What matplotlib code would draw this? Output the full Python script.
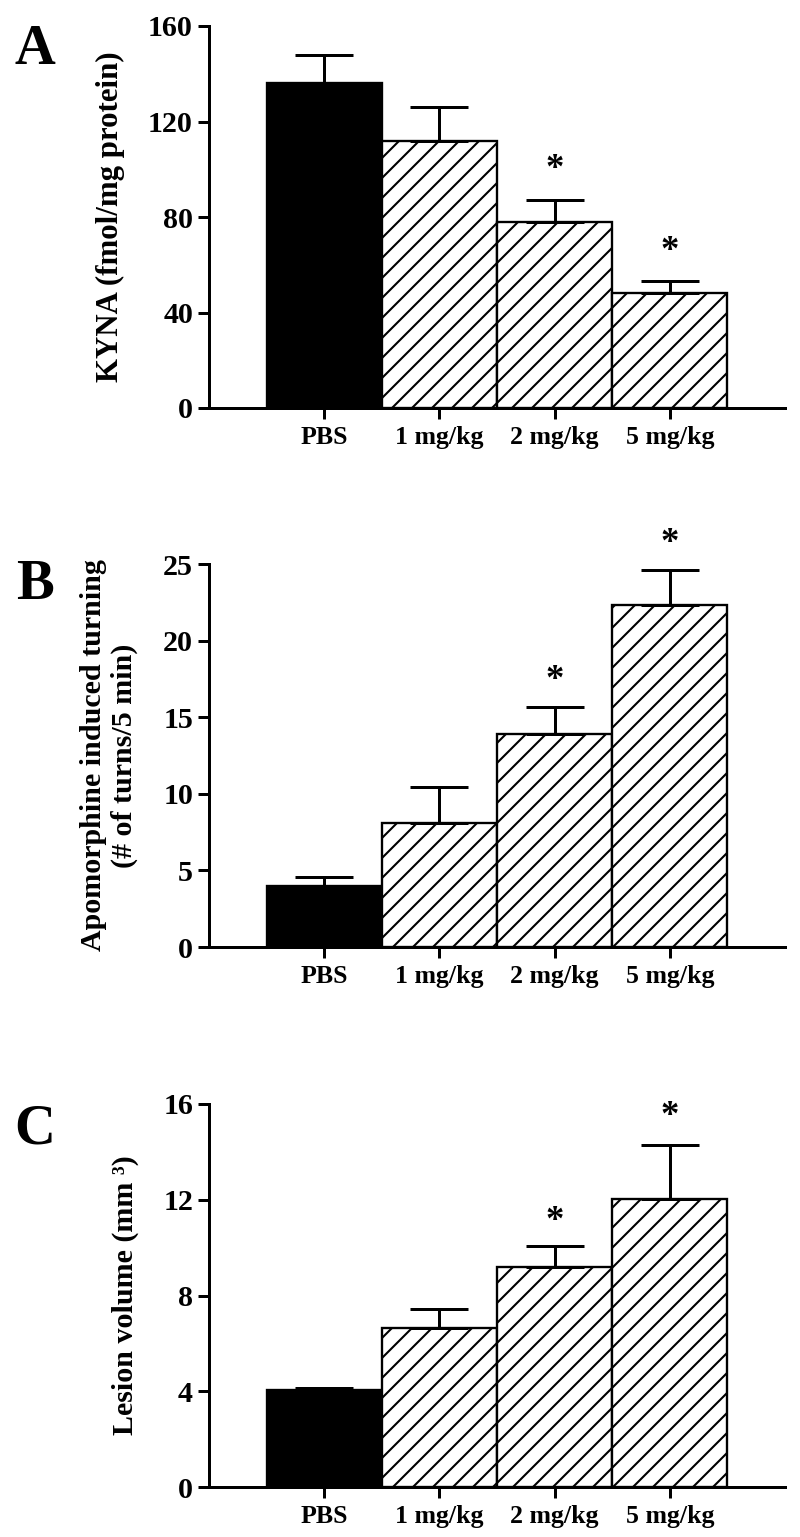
import matplotlib
matplotlib.use("Agg")
import matplotlib.pyplot as plt
import numpy as np

# ---- data ----
groups = ["PBS", "1 mg/kg", "2 mg/kg", "5 mg/kg"]

kyna_mean = [136, 112, 78, 48]
kyna_sem = [12, 14, 9, 5]
kyna_star = [None, None, 104, 69.5]

turn_mean = [4.0, 8.1, 13.9, 22.3]
turn_sem = [0.6, 2.35, 1.75, 2.3]
turn_star = [None, None, 18.0, 27.0]

lesion_mean = [4.05, 6.65, 9.2, 12.03]
lesion_sem = [0.1, 0.8, 0.87, 2.27]
lesion_star = [None, None, 11.5, 15.9]

panel_letters = ["A", "B", "C"]
ylabels = ["KYNA (fmol/mg protein)",
           "Apomorphine induced turning\n(# of turns/5 min)",
           "Lesion volume (mm \u00b3)"]
yticks = [[0, 40, 80, 120, 160], [0, 5, 10, 15, 20, 25], [0, 4, 8, 12, 16]]
ylims = [(0, 160), (0, 25), (0, 16)]

# ---- style ----
DPI = 120
plt.rcParams["font.family"] = ["Liberation Serif", "DejaVu Serif"]
plt.rcParams["font.weight"] = "bold"
plt.rcParams["hatch.linewidth"] = 1.25
plt.rcParams["hatch.color"] = "black"

fig = plt.figure(figsize=(800 / DPI, 1537 / DPI), dpi=DPI)

W, H = 800.0, 1537.0
left_px, right_px = 209, 785
tops = [26, 564, 1104]
bottoms = [408, 947, 1487]
label_x_px = [110, 109, 125]
label_fs = [18.5, 18, 18]
letter_y_px = [50, 585, 1130]

datasets = [(kyna_mean, kyna_sem, kyna_star),
            (turn_mean, turn_sem, turn_star),
            (lesion_mean, lesion_sem, lesion_star)]

x = np.arange(len(groups))
for i, (means, sems, stars) in enumerate(datasets):
    ax = fig.add_axes([left_px / W, 1 - bottoms[i] / H,
                       (right_px - left_px) / W, (bottoms[i] - tops[i]) / H])
    faces = ["black"] + ["white"] * (len(groups) - 1)
    hatches = [None] + ["//"] * (len(groups) - 1)
    for xi, m, fc, h in zip(x, means, faces, hatches):
        ax.bar(xi, m, width=1.0, color=fc, edgecolor="black", linewidth=1.4,
               hatch=h, zorder=2)
    ax.errorbar(x, means, yerr=[np.zeros(len(sems)), sems], fmt="none",
                ecolor="black", elinewidth=1.8, capsize=17.4, capthick=1.8,
                zorder=3)
    for xi, s in zip(x, stars):
        if s is not None:
            ax.annotate("*", (xi, s), xytext=(0, -11.5), textcoords="offset points",
                        ha="center", va="baseline", fontsize=22,
                        fontweight="bold", annotation_clip=False)
    ax.set_xlim(-1.0, 4.0)
    ax.set_ylim(*ylims[i])
    ax.set_yticks(yticks[i])
    ax.set_xticks(x)
    ax.set_xticklabels(groups, fontsize=15.5, fontweight="bold")
    ax.tick_params(axis="y", labelsize=18, length=6.6, width=1.8, pad=3)
    ax.tick_params(axis="x", length=6.6, width=1.8, pad=4)
    for lab in ax.get_yticklabels():
        lab.set_fontweight("bold")
    for sp in ["top", "right"]:
        ax.spines[sp].set_visible(False)
    for sp in ["left", "bottom"]:
        ax.spines[sp].set_linewidth(1.8)
    ax.set_facecolor("none")
    # y label
    fig.text(label_x_px[i] / W, 1 - (tops[i] + bottoms[i]) / 2 / H, ylabels[i],
             rotation=90, ha="center", va="center", fontsize=label_fs[i],
             fontweight="bold", multialignment="center", linespacing=1.15)
    # panel letter
    fig.text(35 / W, 1 - letter_y_px[i] / H, panel_letters[i], ha="center",
             va="center", fontsize=34, fontweight="bold")

fig.savefig("out.png", dpi=DPI)
